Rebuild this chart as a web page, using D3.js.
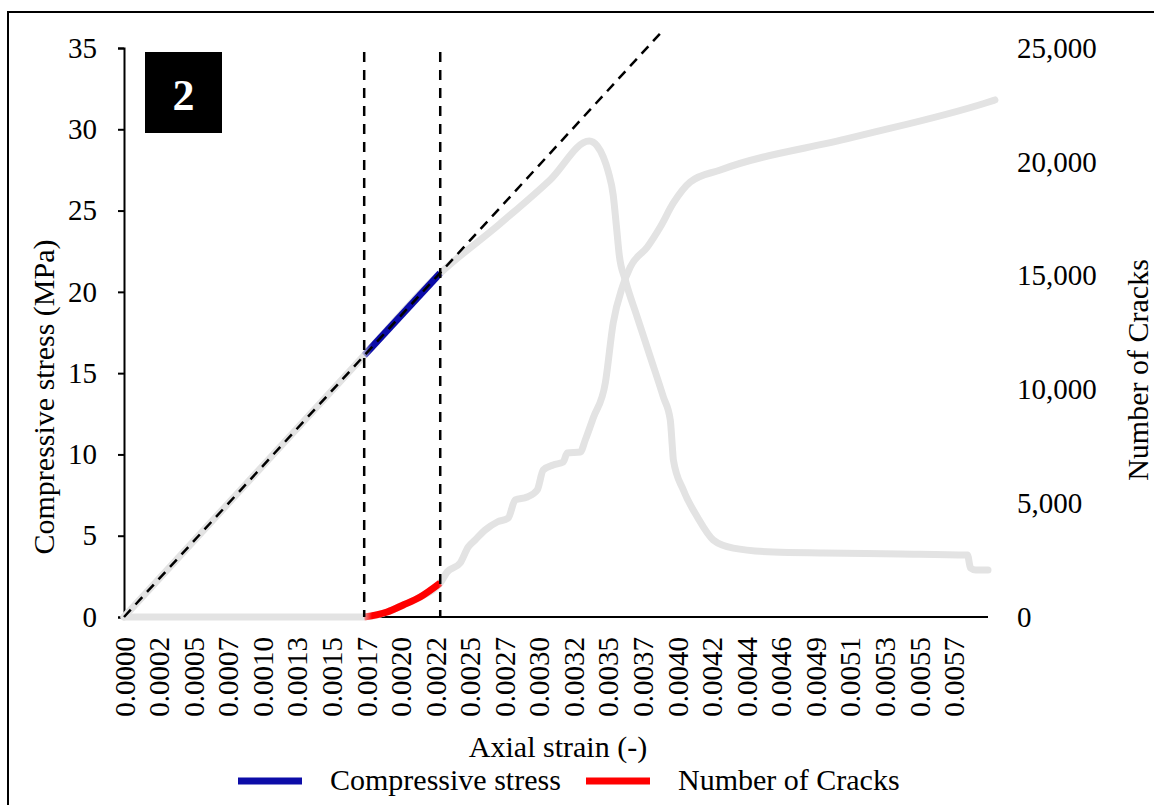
<!DOCTYPE html>
<html>
<head>
<meta charset="utf-8">
<script src="https://cdn.jsdelivr.net/npm/d3@7"></script>
<style>
  html, body { margin: 0; padding: 0; background: #fff; }
  svg { display: block; }
  svg text { font-family: "Liberation Serif", "Times New Roman", "DejaVu Serif", serif !important; fill: #000; }
</style>
</head>
<body>
<svg id="chart" width="1154" height="805"></svg>
<script>
// Axial strain category labels shown along the x axis
const strainTicks = [0.0000, 0.0002, 0.0005, 0.0007, 0.0010, 0.0013, 0.0015, 0.0017, 0.0020,
  0.0022, 0.0025, 0.0027, 0.0030, 0.0032, 0.0035, 0.0037, 0.0040, 0.0042, 0.0044, 0.0046,
  0.0049, 0.0051, 0.0053, 0.0055, 0.0057];
const strainEnd = 0.0059;

// Compressive stress (MPa) vs axial strain
const stressStrain = [0, 0.00169, 0.002245, 0.002677, 0.003067, 0.003339, 0.003408, 0.00346,
  0.003503, 0.003531, 0.003549, 0.003566, 0.003601, 0.00367, 0.003769, 0.003882, 0.003942,
  0.00396, 0.003969, 0.004037, 0.004118, 0.00421, 0.004326, 0.004558, 0.004946, 0.005393,
  0.005781, 0.005799, 0.005828, 0.0059];
const stressValues = [0, 16.1, 21.15, 24.2, 26.9, 29.28, 28.97, 28.3, 27.37, 25.96, 24.11,
  22.27, 20.73, 18.45, 15.99, 13.53, 12.12, 10.46, 9.66, 7.81, 6.15, 4.74, 4.24, 4.0, 3.94,
  3.88, 3.81, 3.01, 2.89, 2.89];

// Cumulative number of cracks vs axial strain
const crackStrain = [0, 0.0015, 0.00169, 0.001884, 0.002016, 0.002114, 0.002245, 0.002305,
  0.002418, 0.002488, 0.002532, 0.00259, 0.00266, 0.002735, 0.002796, 0.0029, 0.002987,
  0.003026, 0.003084, 0.003142, 0.003165, 0.003261, 0.003304, 0.003373, 0.003478, 0.003531,
  0.003584, 0.00363, 0.003743, 0.003855, 0.003969, 0.004077, 0.004251, 0.005104, 0.005886,
  0.00594];
const crackValues = [0, 0, 0, 220, 527, 879, 1494, 1977, 2373, 3076, 3383, 3823, 4174, 4350,
  5141, 5273, 5580, 6459, 6679, 6811, 7206, 7250, 7777, 8744, 10282, 12918, 14500, 15379,
  16258, 17137, 18191, 19114, 19641, 21047, 22585, 22717];

// Strain window bounded by the dashed markers (highlighted stage)
const stageWindow = [0.00169, 0.002245];
// Linear elastic reference line
const elasticStrain = [0, 0.003855];
const elasticStress = [0, 35.9];

const stressTicks = [0, 5, 10, 15, 20, 25, 30, 35];
const crackTicks = [0, 5000, 10000, 15000, 20000, 25000];

const legendItems = [
  { label: "Compressive stress", color: "#0c0ca8" },
  { label: "Number of Cracks", color: "#ff0000" }
];

const GREY = "#e3e3e3";
const FONT = "'Liberation Serif', 'Times New Roman', 'DejaVu Serif', serif";
const svg = d3.select("#chart");

const margin = { left: 124, top: 48, bottom: 617 };
const plotW = 864;
const step = plotW / strainTicks.length;

// Category-style strain axis: labelled strains sit at equal spacing
const xDomain = strainTicks.concat([strainEnd]);
const x = d3.scaleLinear()
  .domain(xDomain)
  .range(xDomain.map((d, i) => margin.left + i * step));
const xRight = margin.left + plotW;

const yL = d3.scaleLinear().domain([0, 35]).range([margin.bottom, margin.top]);
const yR = d3.scaleLinear().domain([0, 25000]).range([margin.bottom, margin.top]);

// Outer frame
svg.append("rect")
  .attr("x", 8).attr("y", 12).attr("width", 1170).attr("height", 820)
  .attr("fill", "none").attr("stroke", "#000").attr("stroke-width", 2);

// Left axis
const gL = svg.append("g")
  .attr("transform", `translate(${margin.left},0)`)
  .call(d3.axisLeft(yL).tickValues(stressTicks).tickSize(6).tickPadding(21).tickFormat(d3.format("d")));
gL.attr("font-family", FONT);
gL.select(".domain").attr("stroke", "#000").attr("stroke-width", 2);
gL.selectAll(".tick line").attr("stroke", "#000").attr("stroke-width", 2);
gL.selectAll("text").style("font-size", "29px");

// Right axis (labels only)
const gR = svg.append("g")
  .attr("transform", `translate(${xRight},0)`)
  .call(d3.axisRight(yR).tickValues(crackTicks).tickSize(0).tickPadding(29).tickFormat(d3.format(",")));
gR.attr("font-family", FONT);
gR.select(".domain").remove();
gR.selectAll("text").style("font-size", "29px");

// Bottom axis with vertical labels
const gX = svg.append("g")
  .attr("transform", `translate(0,${margin.bottom})`)
  .call(d3.axisBottom(x).tickValues(strainTicks).tickSize(0).tickFormat(d3.format(".4f")));
gX.attr("font-family", FONT);
gX.select(".domain").attr("d", `M${margin.left},0H${xRight}`).attr("stroke", "#000").attr("stroke-width", 2);
gX.selectAll("text")
  .style("font-size", "29px")
  .attr("transform", "rotate(-90)")
  .attr("text-anchor", "end")
  .attr("x", -20).attr("y", 0).attr("dy", "0.35em");

// Series
const stressData = stressStrain.map((s, i) => [s, stressValues[i]]);
const crackData = crackStrain.map((s, i) => [s, crackValues[i]]);

const stressLine = d3.line().x(d => x(d[0])).y(d => yL(d[1])).curve(d3.curveMonotoneX);
const crackLine = d3.line().x(d => x(d[0])).y(d => yR(d[1])).curve(d3.curveMonotoneX);

const plot = svg.append("g");
plot.append("path").datum(stressData).attr("d", stressLine)
  .attr("fill", "none").attr("stroke", GREY).attr("stroke-width", 7)
  .attr("stroke-linejoin", "round").attr("stroke-linecap", "round");
plot.append("path").datum(crackData).attr("d", crackLine)
  .attr("fill", "none").attr("stroke", GREY).attr("stroke-width", 7)
  .attr("stroke-linejoin", "round").attr("stroke-linecap", "round");

// Highlighted stage with soft ends
const defs = svg.append("defs");
function fadeGradient(id, color) {
  const g = defs.append("linearGradient").attr("id", id)
    .attr("gradientUnits", "userSpaceOnUse")
    .attr("x1", x(stageWindow[0]) - 4).attr("x2", x(stageWindow[1]) + 4)
    .attr("y1", 0).attr("y2", 0);
  [[0, 0], [0.14, 1], [0.93, 1], [1, 0.2]].forEach(([o, a]) =>
    g.append("stop").attr("offset", o).attr("stop-color", color).attr("stop-opacity", a));
}
fadeGradient("fadeStress", legendItems[0].color);
fadeGradient("fadeCrack", legendItems[1].color);

const inWindow = d => d[0] >= stageWindow[0] && d[0] <= stageWindow[1];
plot.append("path").datum(stressData.filter(inWindow)).attr("d", stressLine)
  .attr("fill", "none").attr("stroke", "url(#fadeStress)").attr("stroke-width", 7);
plot.append("path").datum(crackData.filter(inWindow)).attr("d", crackLine)
  .attr("fill", "none").attr("stroke", "url(#fadeCrack)").attr("stroke-width", 7);

// Dashed guide lines
const elastic = elasticStrain.map((s, i) => [s, elasticStress[i]]);
plot.append("path").datum(elastic)
  .attr("d", d3.line().x(d => x(d[0])).y(d => yL(d[1])))
  .attr("fill", "none").attr("stroke", "#000").attr("stroke-width", 2.5)
  .attr("stroke-dasharray", "10,7");
plot.selectAll(".stage-marker").data(stageWindow).join("line")
  .attr("class", "stage-marker")
  .attr("x1", d => x(d)).attr("x2", d => x(d))
  .attr("y1", yL(35) + 4).attr("y2", yL(0))
  .attr("stroke", "#000").attr("stroke-width", 2.5).attr("stroke-dasharray", "10,8");

// Panel badge
svg.append("rect").attr("x", 145).attr("y", 52).attr("width", 77).attr("height", 81).attr("fill", "#000");
svg.append("text").attr("x", 183.5).attr("y", 110).attr("text-anchor", "middle")
  .style("font-size", "44px").style("font-weight", "bold").style("fill", "#fff").text("2");

// Axis titles
svg.append("text").attr("transform", "translate(54,397) rotate(-90)").attr("text-anchor", "middle")
  .style("font-size", "30px").text("Compressive stress (MPa)");
svg.append("text").attr("transform", "translate(1148,370) rotate(-90)").attr("text-anchor", "middle")
  .style("font-size", "30px").text("Number of Cracks");
svg.append("text").attr("x", 558).attr("y", 757).attr("text-anchor", "middle")
  .style("font-size", "30px").text("Axial strain (-)");

// Legend
const legendPos = [238, 586];
const lg = svg.append("g").selectAll("g").data(legendItems).join("g")
  .attr("transform", (d, i) => `translate(${legendPos[i]},781)`);
lg.append("line").attr("x1", 0).attr("x2", 64).attr("y1", 0).attr("y2", 0)
  .attr("stroke", d => d.color).attr("stroke-width", 7);
lg.append("text").attr("x", 92).attr("y", 9).style("font-size", "30px").text(d => d.label);
</script>
</body>
</html>
